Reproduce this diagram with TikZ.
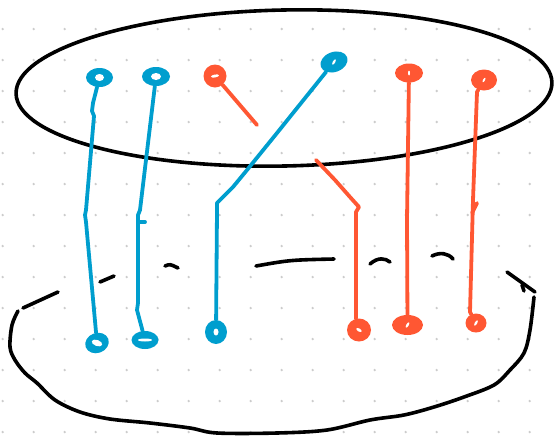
\documentclass[tikz,border=0pt]{standalone}
\usepackage{xcolor}
\usepackage{tikz}
\definecolor{strandblue}{RGB}{0, 158, 206}
\definecolor{strandorange}{RGB}{255, 87, 51}
\definecolor{griddot}{RGB}{204, 204, 204}
\usetikzlibrary{shapes.geometric}

\begin{document}
\begin{tikzpicture}[
    x=1pt, y=-1pt,
    rim/.style={draw=black, line width=3.6pt, line cap=round, line join=round},
    strand/.style={line width=3.8pt, line cap=round, line join=round},
    bluering/.style={ellipse, fill=strandblue, inner sep=0pt},
    orangering/.style={ellipse, fill=strandorange, inner sep=0pt},
    hole/.style={fill=white}
]
    \useasboundingbox (0,0) rectangle (554,437);

    % Dot grid
    \foreach \i in {0,...,17}
        \foreach \j in {0,...,13}
            \fill[griddot] (2.7+31*\i, 29+31*\j) circle (1.3);

    % Top disc
    \draw[rim] (284,88) ellipse [x radius=268, y radius=78, rotate=1.2];

    % Bottom disc, hidden back half
    \draw[rim] (23,308) -- (58,292);
    \draw[rim] (100,282) -- (114,276);
    \draw[rim] (165,266) .. controls (170,264) .. (178,268);
    \draw[rim] (256,266) .. controls (290,260) .. (334,259);
    \draw[rim] (370,264) .. controls (378,257) and (385,258) .. (390,262);
    \draw[rim] (432,256) .. controls (440,252) and (448,253) .. (453,259);
    \draw[rim] (507,272) -- (535,292);
    \draw[rim] (522,285) -- (524,291);

    % Bottom disc, front half
    \draw[rim] plot[smooth, tension=0.55] coordinates {
        (18,311) (12,325) (10,347) (15,360) (25,373) (37,383) (55,400)
        (80,412) (110,419) (150,423) (190,428) (217,433) (277,433)
        (327,430) (370,420) (404,415) (434,407) (464,397) (494,385)
        (510,370) (524,353) (530,330) (534,297)};

    % Top rings
    \node[bluering, minimum width=27, minimum height=19] (t1) at (99.5,77.5) {};
    \node[bluering, minimum width=28, minimum height=19] (t2) at (156,76.5) {};
    \node[bluering, minimum width=28, minimum height=20, rotate=20] (t3) at (334,62) {};
    \node[orangering, minimum width=23, minimum height=23] (o1t) at (215,76) {};
    \node[orangering, minimum width=28, minimum height=19] (o2t) at (409,73) {};
    \node[orangering, minimum width=26, minimum height=21] (o3t) at (484,80) {};
    \fill[hole] (t1) ellipse [x radius=4.5, y radius=3.5];
    \fill[hole] (t2) ellipse [x radius=5, y radius=3.5];
    \fill[hole] (t3) ellipse [x radius=3, y radius=1.2, rotate=60];
    \fill[hole] (o1t) ellipse [x radius=4, y radius=1.5, rotate=10];
    \fill[hole] (o2t) ellipse [x radius=1, y radius=2.5];
    \fill[hole] (o3t) ellipse [x radius=1, y radius=2.5, rotate=-30];

    % Bottom rings
    \node[bluering, minimum width=24, minimum height=20, rotate=20] (b1) at (97,343) {};
    \node[bluering, minimum width=27, minimum height=18] (b2) at (145,340) {};
    \node[bluering, minimum width=22, minimum height=24] (b3) at (216,332) {};
    \node[orangering, minimum width=24, minimum height=23] (o1b) at (359,330) {};
    \node[orangering, minimum width=31, minimum height=20] (o2b) at (407.5,325) {};
    \node[orangering, minimum width=21, minimum height=19] (o3b) at (476,323) {};
    \fill[hole] (b1) ellipse [x radius=5.5, y radius=3, rotate=-20];
    \fill[hole] (b2) ellipse [x radius=7, y radius=1.5];
    \fill[hole] (b3) ellipse [x radius=2.5, y radius=3.5];
    \fill[hole] (o1b) ellipse [x radius=3, y radius=1.5, rotate=-30];
    \fill[hole] (o2b) ellipse [x radius=1.2, y radius=3, rotate=-30];
    \fill[hole] (o3b) ellipse [x radius=1.2, y radius=3, rotate=-30];

    % Blue strands
    \draw[strand, strandblue] (t1) -- (93,103) -- (92,111) -- (94,116) -- (86,210)
        -- (85,215) -- (86,222) -- (b1);
    \draw[strand, strandblue] (t2) -- (140,210) -- (138,215) -- (138,303)
        -- (137,310) -- (b2);
    \draw[strand, strandblue] (140,222) -- (145,222);
    \draw[strand, strandblue] (t3) -- (277,133) -- (247,170) -- (233,187)
        -- (217,203) -- (217,210) -- (b3);

    % Orange strands
    \draw[strand, strandorange] (o1t) -- (257,125);
    \draw[strand, strandorange] (316,160) -- (335,180) -- (350,197) -- (359,207)
        -- (356,212) -- (356,318) -- (o1b);
    \draw[strand, strandorange] (o2t) -- (407,220) -- (o2b);
    \draw[strand, strandorange] (o3t) -- (477,92) -- (473,200) -- (470,312) -- (o3b);
    \draw[strand, strandorange] (477,203) -- (472,213);
\end{tikzpicture}
\end{document}
